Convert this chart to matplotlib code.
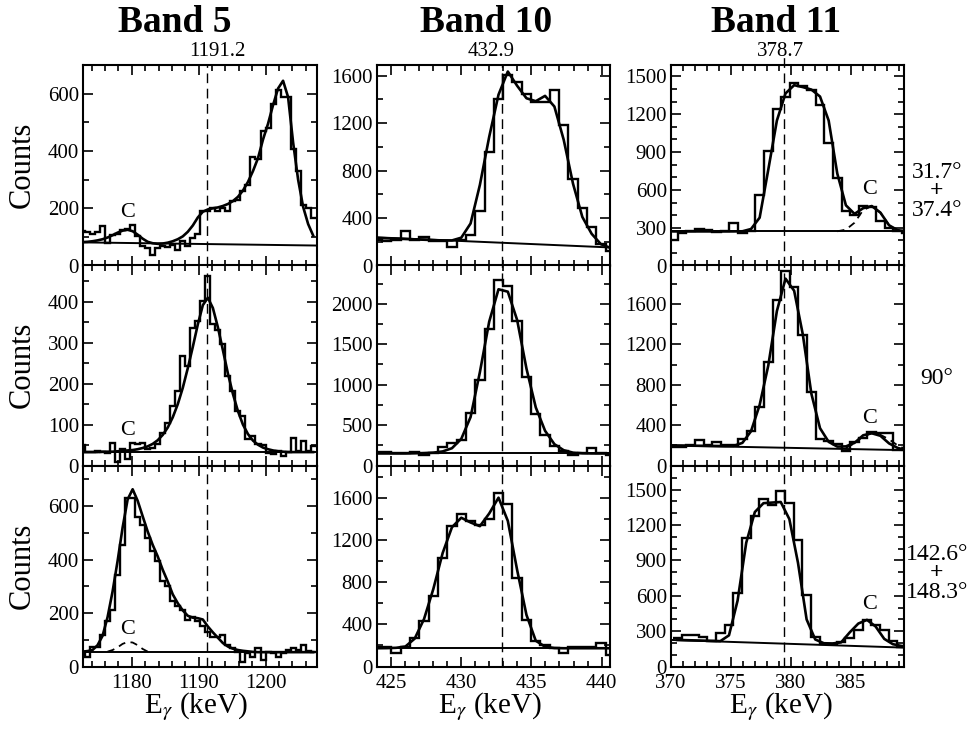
import numpy as np
import matplotlib
matplotlib.use("Agg")
import matplotlib.pyplot as plt
from matplotlib.ticker import MultipleLocator

plt.rcParams["font.family"] = ["Liberation Serif", "DejaVu Serif"]
plt.rcParams["mathtext.fontset"] = "stix"

nan = np.nan

# ---- Band 5 (1191.2 keV), bins of 0.75 keV ----
band5_fwd_counts = [120, 118, 112, 117, 137, 78, 108, 110, 125, 128, 140, 105, 70, 60, 38, 62,
                    70, 65, 72, 56, 85, 70, 95, 110, 190, 192, 200, 190, 200, 190, 226, 230,
                    262, 280, 380, 372, 470, 480, 565, 612, 590, 588, 407, 330, 213, 200, 165]
band5_fwd_fit = [82, 83, 85, 88, 92, 98, 106, 115, 122, 125, 120, 108, 94, 83, 78, 76,
                 77, 80, 85, 92, 102, 118, 140, 168, 188, 196, 200, 203, 208, 215, 225, 240,
                 262, 292, 330, 375, 440, 495, 560, 618, 645, 588, 430, 300, 205, 145, 105]
band5_90_counts = [50, 32, 34, 36, 32, 30, 54, 9, 41, 17, 56, 52, 56, 40, 44, 52,
                   80, 105, 145, 182, 267, 243, 336, 353, 402, 462, 345, 332, 296, 219, 182, 133,
                   121, 64, 72, 52, 50, 30, 28, 36, 24, 34, 68, 36, 60, 36, 48]
band5_90_fit = [33, 33, 33, 33, 34, 34, 34, 35, 36, 37, 38, 40, 43, 47, 53, 62,
                75, 93, 118, 150, 190, 238, 290, 345, 392, 410, 385, 338, 282, 225, 175, 133,
                100, 77, 61, 51, 44, 40, 37, 35, 34, 33, 33, 33, 33, 33, 33]
band5_bwd_counts = [55, 37, 75, 72, 119, 169, 212, 344, 456, 630, 630, 560, 531, 481, 431, 394,
                    319, 300, 244, 225, 212, 175, 187, 172, 150, 131, 112, 112, 119, 81, 69, 56,
                    19, 50, 37, 69, 25, 56, 50, 37, 50, 62, 69, 62, 81, 59, 56]
band5_bwd_fit = [56, 58, 62, 80, 115, 185, 281, 395, 520, 625, 663, 620, 562, 505, 455, 412,
                 362, 318, 270, 237, 210, 190, 183, 181, 176, 150, 128, 108, 88, 75, 67, 62,
                 59, 57, 55, 54, 54, 54, 54, 54, 54, 54, 54, 54, 54, 54, 54]
band5_bwd_c = [nan] * 5 + [56, 62, 72, 85, 92, 90, 80, 66, 56] + [nan] * 33

# ---- Band 10 (432.9 keV), bins of 0.66 keV ----
band10_fwd_counts = [218, 204, 215, 289, 218, 238, 204, 204, 159, 218, 261, 460, 956,
                     1401, 1608, 1543, 1444, 1381, 1381, 1481, 1183, 729, 488, 323, 182, 125]
band10_fwd_fit = [233, 230, 227, 224, 221, 218, 215, 212, 212, 235, 355, 680, 1085,
                  1440, 1635, 1515, 1410, 1385, 1430, 1340, 1060, 690, 410, 268, 180, 150]
band10_90_counts = [166, 166, 150, 150, 170, 137, 150, 233, 274, 316, 648, 1064, 1687,
                    2298, 2215, 1791, 1093, 636, 374, 241, 179, 129, 150, 212, 150, 129]
band10_90_fit = [150, 150, 150, 150, 152, 155, 160, 175, 215, 330, 600, 1155, 1780,
                 2180, 2150, 1800, 1200, 720, 430, 265, 190, 160, 152, 150, 150, 150]
band10_bwd_counts = [181, 181, 127, 181, 269, 428, 665, 1030, 1331, 1448, 1378, 1340, 1394,
                     1648, 1537, 840, 444, 238, 200, 174, 133, 184, 181, 181, 222, 111]
band10_bwd_fit = [174, 175, 178, 190, 265, 450, 735, 1075, 1320, 1410, 1365, 1330, 1450,
                  1600, 1380, 915, 490, 245, 188, 176, 174, 174, 174, 174, 174, 174]

# ---- Band 11 (378.7 keV), bins of 0.72 keV ----
band11_fwd_counts = [200, 258, 272, 290, 280, 265, 275, 335, 260, 275, 556, 910, 1242, 1335,
                     1445, 1420, 1390, 1270, 975, 697, 431, 404, 470, 465, 351, 298, 272, 258]
band11_fwd_fit = [271, 271, 271, 271, 271, 271, 271, 271, 272, 290, 380, 760, 1150, 1365,
                  1430, 1415, 1395, 1340, 1150, 730, 478, 410, 455, 472, 420, 320, 280, 272]
band11_fwd_c = [nan] * 19 + [272, 285, 340, 440, 472, 420, 320, 280, 272]
band11_90_counts = [185, 185, 200, 249, 200, 233, 200, 200, 259, 342, 575, 1024, 1639, 1922,
                    1772, 1297, 731, 259, 243, 209, 143, 233, 276, 332, 319, 319, 153, 153]
band11_90_fit = [199, 198, 197, 196, 195, 194, 193, 195, 225, 340, 600, 990, 1530, 1850,
                 1730, 1300, 710, 370, 235, 188, 190, 225, 300, 320, 295, 220, 175, 153]
band11_90_c = [nan] * 20 + [175, 220, 290, 320, 305, 260, 200, 160]
band11_bwd_counts = [240, 269, 272, 250, 218, 283, 354, 623, 1090, 1274, 1424, 1367, 1486, 1387,
                     1076, 609, 255, 190, 190, 205, 241, 311, 396, 354, 311, 218, 170, 156]
band11_bwd_fit = [226, 224, 222, 220, 218, 216, 265, 560, 1050, 1310, 1385, 1390, 1395, 1250,
                  880, 400, 230, 198, 196, 205, 290, 365, 396, 340, 235, 190, 175, 168]

# linear background (left, right) per panel
backgrounds = [[(81, 70), (238, 153), (271, 271)],
               [(33, 33), (150, 150), (199, 153)],
               [(54, 54), (174, 174), (226, 161)]]

bands = ["Band 5", "Band 10", "Band 11"]
energies = ["1191.2", "432.9", "378.7"]
line_pos = [1191.2, 432.9, 379.4]
bin_start = [[1172.25, 1172.25, 1172.25], [423.70, 423.70, 423.70], [369.84, 369.84, 370.16]]
bin_width = [0.75, 0.6635, 0.72]
xlims = [(1172.7, 1207.7), (424.0, 440.6), (370.0, 389.45)]
x_major = [10, 5, 5]
x_minor = [2, 1, 1]
ylims = [[700, 1690, 1590], [490, 2480, 1985], [750, 1900, 1700]]
y_major = [[200, 400, 300], [100, 500, 400], [200, 400, 300]]
y_minor = [[100, 200, 100], [50, 250, 200], [100, 200, 100]]

counts = [[band5_fwd_counts, band10_fwd_counts, band11_fwd_counts],
          [band5_90_counts, band10_90_counts, band11_90_counts],
          [band5_bwd_counts, band10_bwd_counts, band11_bwd_counts]]
fits = [[band5_fwd_fit, band10_fwd_fit, band11_fwd_fit],
        [band5_90_fit, band10_90_fit, band11_90_fit],
        [band5_bwd_fit, band10_bwd_fit, band11_bwd_fit]]
comps = [[None, None, band11_fwd_c],
         [None, None, band11_90_c],
         [band5_bwd_c, None, None]]
c_labels = [[(1179.4, 184), None, (386.6, 604)],
            [(1179.4, 85), None, (386.6, 465)],
            [(1179.4, 137), None, (386.6, 529)]]
angle_top = ["31.7°", "90°", "142.6°"]
angle_bottom = ["37.4°", "", "148.3°"]

W, H = 970, 730
fig = plt.figure(figsize=(W / 100, H / 100), dpi=100)

col_left = [83, 377, 671]
col_width = [234, 233, 233]
row_top = [65, 265, 466]
row_h = 200.6


def fx(x):
    return x / W


def fy(y):
    return 1 - y / H


for r in range(3):
    for c in range(3):
        ax = fig.add_axes([fx(col_left[c]), fy(row_top[r] + row_h),
                           col_width[c] / W, row_h / H])
        n = len(counts[r][c])
        edges = bin_start[c][r] + bin_width[c] * np.arange(n + 1)
        centers = 0.5 * (edges[:-1] + edges[1:])
        ax.stairs(counts[r][c], edges, color="black", lw=1.7, baseline=None)
        ax.plot(centers, fits[r][c], color="black", lw=1.9)
        if comps[r][c] is not None:
            ax.plot(centers, comps[r][c], color="black", lw=1.3, ls=(0, (4, 3)))
        b0, b1 = backgrounds[r][c]
        ax.plot(xlims[c], [b0, b1], color="black", lw=1.4)
        top = 1.05 if (r == 0 and c == 2) else 1.0
        ax.axvline(line_pos[c], ymax=top, color="black", lw=1.0, ls=(0, (7, 4)),
                   clip_on=False)
        if c_labels[r][c] is not None:
            ax.text(*c_labels[r][c], "C", fontsize=16, ha="center", va="center")

        ax.set_xlim(*xlims[c])
        ax.set_ylim(0, ylims[r][c])
        ax.xaxis.set_major_locator(MultipleLocator(x_major[c]))
        ax.xaxis.set_minor_locator(MultipleLocator(x_minor[c]))
        ax.yaxis.set_major_locator(MultipleLocator(y_major[r][c]))
        ax.yaxis.set_minor_locator(MultipleLocator(y_minor[r][c]))
        ax.tick_params(which="both", direction="in", top=True, right=True,
                       labelsize=15, width=1.2)
        ax.tick_params(which="major", length=7, pad=3)
        ax.tick_params(which="minor", length=4)
        for sp in ax.spines.values():
            sp.set_linewidth(1.5)
        if r < 2:
            ax.tick_params(labelbottom=False)
        else:
            ax.tick_params(axis="x", pad=5)
        if c == 0:
            fig.text(fx(22), fy(row_top[r] + row_h / 2), "Counts", rotation=90,
                     fontsize=22, ha="center", va="center")

    # angle labels on the right
    if angle_bottom[r]:
        yc = [191, 573][0 if r == 0 else 1]
        fig.text(fx(937), fy(yc - 19), angle_top[r], fontsize=17, ha="center", va="center")
        fig.text(fx(937), fy(yc), "+", fontsize=17, fontweight="bold",
                 ha="center", va="center")
        fig.text(fx(937), fy(yc + 19), angle_bottom[r], fontsize=17, ha="center", va="center")
    else:
        fig.text(fx(937), fy(378), angle_top[r], fontsize=17, ha="center", va="center")

title_x = [175, 486, 776]
energy_x = [217, 491, 781]
xlabel_x = [196, 490, 781]
for c in range(3):
    fig.text(fx(title_x[c]), fy(22), bands[c], fontsize=27, fontweight="bold",
             ha="center", va="center")
    fig.text(fx(energy_x[c]), fy(52), energies[c], fontsize=15, ha="center", va="center")
    fig.text(fx(xlabel_x[c]), fy(707), r"E$_{\gamma}$ (keV)", fontsize=21,
             ha="center", va="center")

fig.savefig("out.png", dpi=100)
